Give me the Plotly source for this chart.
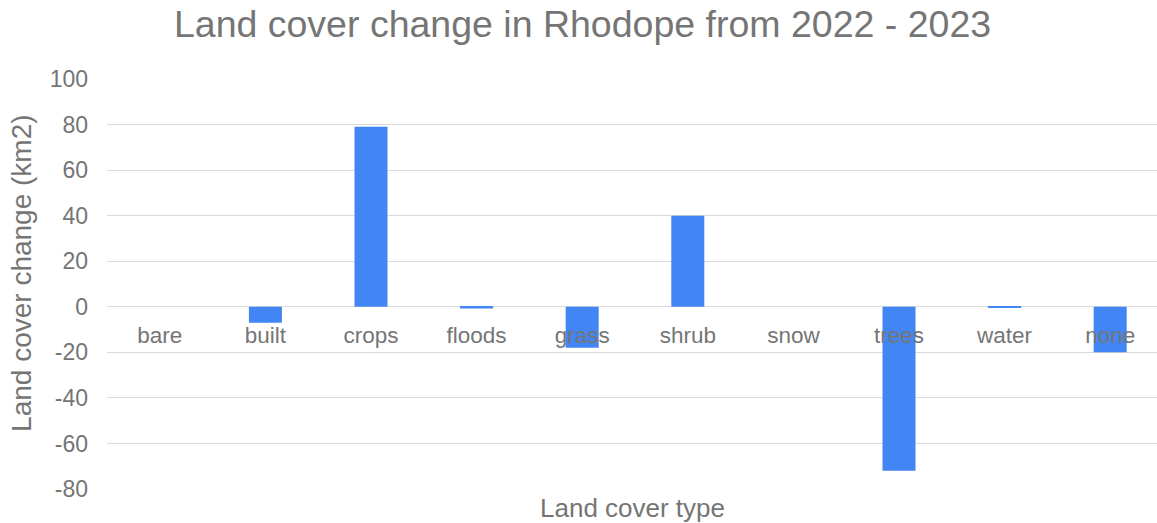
import plotly.graph_objects as go

categories = ["bare", "built", "crops", "floods", "grass", "shrub", "snow", "trees", "water", "none"]
change_km2 = [0, -7, 79, -0.8, -18, 40, 0, -72, -0.5, -20]
y_ticks = [-80, -60, -40, -20, 0, 20, 40, 60, 80, 100]
y_tick_text = ["-80", "-60", "-40", "-20", "0", "20", "40", "60", "80", "100"]

TXT = "#757575"
FONT = "Liberation Sans, Arial, sans-serif"
ymin, ymax = -80, 100

fig = go.Figure(go.Bar(x=categories, y=change_km2, marker_color="#4285F4",
                       marker_line_width=0))

fig.update_layout(
    width=1157, height=523,
    margin=dict(l=107, r=0, t=79, b=34),
    paper_bgcolor="white", plot_bgcolor="white",
    font=dict(family=FONT, color=TXT, size=22),
    bargap=0.6875,
    showlegend=False,
    title=dict(text="Land cover change in Rhodope from 2022 - 2023",
               font=dict(size=37.5, color=TXT, family=FONT),
               x=0.5035, xanchor="center", y=0.955, yanchor="middle"),
    xaxis=dict(anchor="free", position=(0 - ymin) / (ymax - ymin),
               showgrid=False, showline=False, zeroline=False, ticks="",
               tickfont=dict(size=22.5, color=TXT), ticklabelstandoff=13,
               range=[-0.5, -0.5 + 1050 / 105.6]),
    yaxis=dict(range=[ymin, ymax], tickvals=y_ticks, ticktext=y_tick_text,
               showgrid=True,
               gridcolor="#dadada", gridwidth=1, zeroline=True,
               zerolinecolor="#dadada", zerolinewidth=1, showline=False,
               ticks="", tickfont=dict(size=23, color=TXT),
               ticklabelstandoff=18),
    annotations=[
        dict(text="Land cover change (km2)", textangle=-90, xref="paper", yref="paper",
             x=-85 / 1050, y=0.527, xanchor="center", yanchor="middle",
             showarrow=False, font=dict(size=28, color=TXT, family=FONT)),
        dict(text="Land cover type", xref="paper", yref="paper",
             x=0.5, y=-19 / 410, xanchor="center", yanchor="middle",
             showarrow=False, font=dict(size=26, color=TXT, family=FONT)),
    ],
)

fig.write_html("out.html")
